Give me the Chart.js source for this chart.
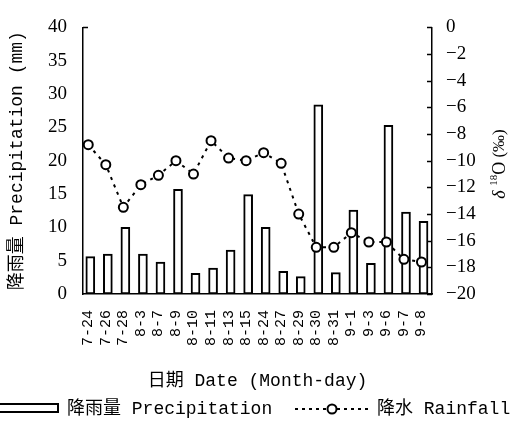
<!DOCTYPE html>
<html>
<head>
<meta charset="utf-8">
<script src="https://cdn.jsdelivr.net/npm/chart.js@4.4.1/dist/chart.umd.min.js"></script>
<style>
  html, body { margin: 0; padding: 0; background: #fff; }
  #wrap { width: 518px; height: 428px; }
</style>
</head>
<body>
<div id="wrap"><canvas id="my-chart" width="518" height="428"></canvas></div>
<script>
var dates = ["7-24", "7-26", "7-28", "8-3", "8-7", "8-9", "8-10", "8-11", "8-13", "8-15",
  "8-24", "8-27", "8-29", "8-30", "8-31", "9-1", "9-3", "9-6", "9-7", "9-8"];
var precipitation = [5.6, 6, 10, 6, 4.8, 15.7, 3.1, 3.9, 6.6, 14.9,
  10, 3.4, 2.6, 28.4, 3.2, 12.6, 4.6, 25.3, 12.3, 10.9];
var rainfall = [-8.8, -10.3, -13.5, -11.8, -11.1, -10.0, -11.0, -8.5, -9.8, -10.0,
  -9.4, -10.2, -14.0, -16.5, -16.5, -15.4, -16.1, -16.1, -17.4, -17.6];
var leftTicks = [0, 5, 10, 15, 20, 25, 30, 35, 40];
var rightTicks = [0, -2, -4, -6, -8, -10, -12, -14, -16, -18, -20];

var textFont = "'Liberation Mono', 'Noto Sans CJK SC', monospace";
var numFont = "'Liberation Serif', serif";

function minus(v) {
  return v < 0 ? "\u2212" + Math.abs(v) : String(v);
}

// inner tick marks, right title and the legend at the bottom
var extras = {
  id: "extras",
  afterDraw: function (chart) {
    var ctx = chart.ctx;
    var y2 = chart.scales.y2;
    var y = chart.scales.y;
    var area = chart.chartArea;
    ctx.save();
    ctx.strokeStyle = "#000";
    ctx.lineWidth = 1.5;
    rightTicks.forEach(function (t) {
      var py = Math.round(y2.getPixelForValue(t)) + 0.5;
      ctx.beginPath();
      ctx.moveTo(area.right, py);
      ctx.lineTo(area.right - 5, py);
      ctx.stroke();
    });
    var topY = Math.round(y.getPixelForValue(40)) + 0.5;
    ctx.beginPath();
    ctx.moveTo(area.left, topY);
    ctx.lineTo(area.left + 5, topY);
    ctx.stroke();

    // right axis title, reads bottom to top
    ctx.translate(500, 164);
    ctx.rotate(-Math.PI / 2);
    ctx.fillStyle = "#000";
    ctx.textBaseline = "middle";
    ctx.textAlign = "left";
    var parts = [
      { t: "\u03b4", f: "italic 18px " + numFont, dy: 0 },
      { t: " ", f: "18px " + numFont, dy: 0 },
      { t: "18", f: "11px " + numFont, dy: -6 },
      { t: "O", f: "18px " + numFont, dy: 0 },
      { t: " (\u2030)", f: "17px " + numFont, dy: 0 }
    ];
    var total = 0;
    parts.forEach(function (p) { ctx.font = p.f; total += ctx.measureText(p.t).width; });
    var px = -total / 2;
    parts.forEach(function (p) {
      ctx.font = p.f;
      ctx.fillText(p.t, px, p.dy);
      px += ctx.measureText(p.t).width;
    });
    ctx.restore();

    // legend
    ctx.save();
    ctx.strokeStyle = "#000";
    ctx.fillStyle = "#fff";
    ctx.lineWidth = 2;
    ctx.fillRect(-2, 404, 60, 8);
    ctx.strokeRect(-2, 404, 60, 8);
    ctx.fillStyle = "#000";
    ctx.font = "18px " + textFont;
    ctx.textBaseline = "middle";
    ctx.fillText("降雨量 Precipitation", 67, 409);
    ctx.setLineDash([3, 4]);
    ctx.beginPath();
    ctx.moveTo(295, 409);
    ctx.lineTo(372, 409);
    ctx.stroke();
    ctx.setLineDash([]);
    ctx.beginPath();
    ctx.arc(332, 409, 4.5, 0, Math.PI * 2);
    ctx.fillStyle = "#fff";
    ctx.fill();
    ctx.stroke();
    ctx.fillStyle = "#000";
    ctx.fillText("降水 Rainfall", 377, 409);
    ctx.restore();
  }
};

function renderChart() {
  var ctx = document.getElementById("my-chart").getContext("2d");
  var myChart = new Chart(ctx, {
    type: "bar",
    data: {
      datasets: [
        {
          type: "line",
          label: "降水 Rainfall",
          data: rainfall.map(function (v, i) { return { x: i, y: v }; }),
          xAxisID: "x",
          yAxisID: "y2",
          borderColor: "#000",
          borderWidth: 2,
          borderDash: [3, 5],
          pointRadius: 4.5,
          pointBorderWidth: 2,
          pointBackgroundColor: "#fff",
          pointBorderColor: "#000",
          fill: false,
          tension: 0,
          order: 0
        },
        {
          type: "bar",
          label: "降雨量 Precipitation",
          data: precipitation.map(function (v, i) { return { x: i, y: v }; }),
          xAxisID: "xb",
          yAxisID: "y",
          backgroundColor: "#fff",
          borderColor: "#000",
          borderWidth: 2,
          borderSkipped: false,
          barThickness: 9,
          order: 1
        }
      ]
    },
    options: {
      responsive: false,
      animation: false,
      layout: { padding: { top: 17, bottom: 36, left: 0, right: 0 } },
      plugins: {
        legend: { display: false },
        tooltip: { enabled: false }
      },
      scales: {
        x: {
          type: "linear",
          position: "bottom",
          offset: false,
          min: -0.3,
          max: 19.6,
          afterBuildTicks: function (s) {
            s.ticks = dates.map(function (d, i) { return { value: i }; });
          },
          afterFit: function (s) { s.height = 98; },
          grid: { display: false, drawTicks: false },
          border: { display: true, color: "#000", width: 1.5 },
          ticks: {
            autoSkip: false,
            minRotation: 90,
            maxRotation: 90,
            padding: 16,
            color: "#000",
            font: { family: textFont, size: 15 },
            callback: function (v) { return dates[v]; }
          },
          title: {
            display: true,
            text: "日期 Date (Month-day)",
            color: "#000",
            font: { family: textFont, size: 18 },
            padding: { top: 0, bottom: 0 }
          }
        },
        xb: {
          type: "linear",
          display: false,
          offset: false,
          min: -0.16,
          max: 19.74
        },
        y: {
          position: "left",
          min: 0,
          max: 40,
          afterBuildTicks: function (s) {
            s.ticks = leftTicks.map(function (v) { return { value: v }; });
          },
          afterFit: function (s) { s.width = 83; },
          grid: { display: false, drawTicks: false },
          border: { display: true, color: "#000", width: 1.5 },
          ticks: {
            padding: 16,
            color: "#000",
            font: { family: numFont, size: 19 }
          },
          title: {
            display: true,
            text: "降雨量 Precipitation (mm)",
            color: "#000",
            font: { family: textFont, size: 18 },
            padding: { top: 6, bottom: 0 }
          }
        },
        y2: {
          position: "right",
          min: -20,
          max: 0,
          afterBuildTicks: function (s) {
            s.ticks = rightTicks.map(function (v) { return { value: v }; });
          },
          afterFit: function (s) { s.width = 86; },
          grid: { display: false, drawTicks: false },
          border: { display: true, color: "#000", width: 1.5 },
          ticks: {
            padding: 14,
            color: "#000",
            font: { family: numFont, size: 19 },
            callback: function (v) { return minus(v); }
          }
        }
      }
    },
    plugins: [extras]
  });
}

renderChart();
</script>
</body>
</html>
